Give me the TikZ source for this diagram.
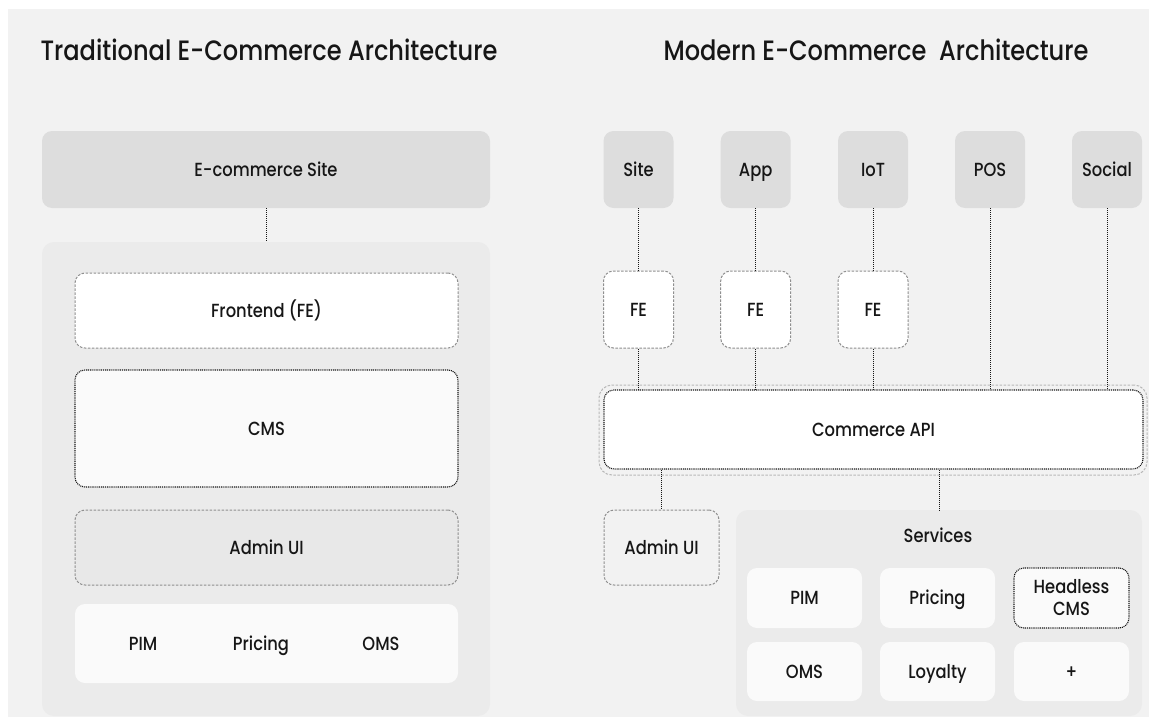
\documentclass[tikz,border=0pt]{standalone}
\usepackage{fontspec}
\setmainfont{Poppins}[UprightFont=* Medium, FakeStretch=0.86]
\definecolor{bg}{HTML}{F2F2F2}
\definecolor{boxgray}{HTML}{DDDDDD}
\definecolor{panelgray}{HTML}{EBEBEB}
\definecolor{cellwhite}{HTML}{FAFAFA}
\definecolor{admingray}{HTML}{E8E8E8}
\definecolor{dashgray}{HTML}{8F8F8F}
\definecolor{lightdash}{HTML}{B8B8B8}
\definecolor{ink}{HTML}{161616}
\tikzset{
  lbl/.style={font=\fontsize{19}{22}\selectfont, text=ink, inner sep=0pt, text height=13.5pt, text depth=0pt},
  ttl/.style={font=\fontsize{28}{33}\selectfont, text=ink, inner sep=0pt},
  gbox/.style={lbl, fill=boxgray, rounded corners=10pt},
  panel/.style={fill=panelgray, rounded corners=12pt, inner sep=0pt},
  cellbox/.style={lbl, fill=cellwhite, rounded corners=10pt},
  dashbox/.style={lbl, draw=dashgray, line width=1pt, dash pattern=on 2.5pt off 1.5pt, rounded corners=10pt},
  dotbox/.style={lbl, draw=ink, line width=1.1pt, dash pattern=on 1pt off 0.9pt, rounded corners=10pt},
  link/.style={draw=ink, line width=1pt, dash pattern=on 1pt off 1pt},
}
\begin{document}
\begin{tikzpicture}[x=1pt,y=-1pt]
\useasboundingbox (0,0) rectangle (1149,717);
\fill[white] (0,0) rectangle (1149,717);
\fill[bg] (8,9) rectangle (1149,717);

% titles
\node[ttl, anchor=base] (titleL) at (269,61) {Traditional E-Commerce Architecture};
\node[ttl, anchor=base] (titleR) at (876,61) {Modern E-Commerce\ \ Architecture};

% ---------- left: traditional ----------
\node[gbox, minimum width=448pt, minimum height=77pt] (ecsite) at (266,169.5) {E-commerce Site};
\node[panel, minimum width=448pt, minimum height=474pt] (panelL) at (266,479) {};
\node[dashbox, fill=white, minimum width=383pt, minimum height=75pt] (feL) at (266.5,310.5) {Frontend (FE)};
\node[dotbox, fill=cellwhite, minimum width=383pt, minimum height=117pt] (cmsL) at (266.5,428.5) {CMS};
\node[dashbox, fill=admingray, minimum width=383pt, minimum height=75pt] (adminL) at (266.5,547.5) {Admin UI};
\node[cellbox, minimum width=383pt, minimum height=79pt] (svcL) at (266.5,643.5) {};
\node[lbl] (pimL) at (143,644) {PIM};
\node[lbl] (priceL) at (261,644) {Pricing};
\node[lbl] (omsL) at (381,644) {OMS};
\draw[link] (ecsite.south) -- (panelL.north);

% ---------- right: modern ----------
\node[gbox, minimum width=70pt, minimum height=77pt] (site) at (638.5,169.5) {Site};
\node[gbox, minimum width=70pt, minimum height=77pt] (app) at (755.7,169.5) {App};
\node[gbox, minimum width=70pt, minimum height=77pt] (iot) at (873,169.5) {IoT};
\node[gbox, minimum width=70pt, minimum height=77pt] (pos) at (990,169.5) {POS};
\node[gbox, minimum width=70pt, minimum height=77pt] (social) at (1107,169.5) {Social};

\node[dashbox, fill=white, minimum width=70pt, minimum height=77pt] (fe1) at (638.5,309.5) {FE};
\node[dashbox, fill=white, minimum width=70pt, minimum height=77pt] (fe2) at (755.7,309.5) {FE};
\node[dashbox, fill=white, minimum width=70pt, minimum height=77pt] (fe3) at (873,309.5) {FE};

\node[draw=lightdash, line width=1pt, dash pattern=on 2.5pt off 1.5pt, rounded corners=13pt, minimum width=548pt, minimum height=90pt, inner sep=0pt] (apiouter) at (873,430) {};
\node[dotbox, fill=white, minimum width=539pt, minimum height=79pt] (api) at (873.5,429.5) {Commerce API};

\node[dashbox, minimum width=115pt, minimum height=75pt] (adminR) at (661.5,547.5) {Admin UI};
\node[panel, minimum width=406pt, minimum height=206pt] (svcR) at (939,613) {};
\node[lbl] (svctitle) at (938,536) {Services};

\node[cellbox, minimum width=115pt, minimum height=60pt] (pimR) at (804.5,598) {PIM};
\node[cellbox, minimum width=115pt, minimum height=60pt] (priceR) at (937.5,598) {Pricing};
\node[dotbox, fill=cellwhite, minimum width=115pt, minimum height=60pt, text height=, text depth=, align=center, font=\fontsize{19}{22}\selectfont] (hcms) at (1071.5,598) {Headless\\CMS};
\node[cellbox, minimum width=115pt, minimum height=59pt] (omsR) at (804.5,671.5) {OMS};
\node[cellbox, minimum width=115pt, minimum height=59pt] (loyal) at (937.5,671.5) {Loyalty};
\node[cellbox, minimum width=115pt, minimum height=59pt] (more) at (1071.5,671.5) {+};

% connectors
\draw[link] (site.south) -- (fe1.north);
\draw[link] (app.south) -- (fe2.north);
\draw[link] (iot.south) -- (fe3.north);
\draw[link] (fe1.south) -- (api.north -| fe1.south);
\draw[link] (fe2.south) -- (api.north -| fe2.south);
\draw[link] (fe3.south) -- (api.north -| fe3.south);
\draw[link] (pos.south) -- (api.north -| pos.south);
\draw[link] (social.south) -- (api.north -| social.south);
\draw[link] (api.south -| adminR.north) -- (adminR.north);
\draw[link] (api.south -| svcR.north) -- (svcR.north);
\end{tikzpicture}
\end{document}
